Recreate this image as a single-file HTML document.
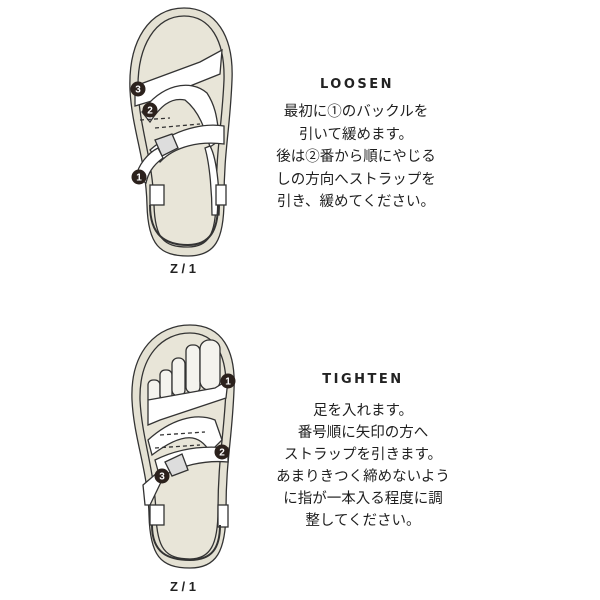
<!DOCTYPE html>
<html><head><meta charset="utf-8"><style>
html,body{margin:0;padding:0;background:#fff;width:600px;height:600px;overflow:hidden}
.t{position:absolute;font-family:"Liberation Sans","Noto Sans CJK JP",sans-serif;color:#1e1e1e;text-align:center;font-size:14.5px;line-height:22.5px;white-space:nowrap}
.h{position:absolute;font-family:"DejaVu Sans","Liberation Sans",sans-serif;font-weight:bold;letter-spacing:2.5px;font-size:13px;color:#222;text-align:center}
</style></head><body>
<svg width="600" height="600" style="position:absolute;left:0;top:0" xmlns="http://www.w3.org/2000/svg">
<g stroke="#333" stroke-width="1.3" fill="none">
<!-- top sandal -->
<path d="M184,8 C215,8 234,35 232,80 C230,130 224,150 224,200 C224,240 215,256 188,256 C160,256 148,245 147,205 C146,160 132,130 130,90 C128,40 150,8 184,8Z" fill="#e4e1d3"/>
<path d="M184,16 C210,16 225,40 224,80 C222,125 216,150 216,200 C216,235 208,247 188,247 C163,247 155,238 154,205 C153,160 140,130 138,90 C137,45 156,16 184,16Z" fill="#e8e5d8"/>
<path d="M135,86 L200,62 L222,50 L220,74 L155,100 L135,106Z" fill="#fff"/>
<path d="M142,112 C160,85 190,78 207,93 C218,110 217,125 220,140 L210,147 C205,130 200,112 185,100 C170,97 160,107 150,122Z" fill="#fff"/>
<path d="M150,150 C175,128 205,123 224,126 L224,144 C200,141 175,146 160,162Z" fill="#fff"/>
<path d="M155,140 L172,134 L178,148 L162,156Z" fill="#ddd"/>
<path d="M136,177 C138,165 148,153 158,148 L163,158 C152,166 148,174 146,183Z" fill="#fff"/>
<path d="M210,146 C218,160 220,200 219,215 L212,215 C212,195 210,165 205,148Z" fill="#fff"/>
<rect x="150" y="185" width="14" height="20" fill="#fff"/>
<rect x="216" y="185" width="10" height="20" fill="#fff"/>
<path d="M150,205 C150,235 165,245 188,245 C210,245 218,230 218,205" stroke-width="2"/>
<path d="M140,120 L170,118 M155,128 L200,124" stroke-dasharray="4,3"/>
<!-- bottom sandal -->
<path d="M190,325 C222,325 236,350 234,390 C232,440 226,460 226,510 C226,552 216,568 190,568 C160,568 150,555 149,515 C148,470 134,440 132,400 C130,350 158,325 190,325Z" fill="#e4e1d3"/>
<path d="M190,333 C215,333 227,355 226,390 C224,435 218,460 218,510 C218,545 210,559 190,559 C165,559 157,548 156,515 C155,470 142,440 140,400 C139,355 163,333 190,333Z" fill="#e8e5d8"/>
<g fill="#f4f3ee"><rect x="148" y="380" width="12" height="24" rx="5"/><rect x="160" y="370" width="12" height="30" rx="5"/><rect x="172" y="358" width="13" height="38" rx="6"/><rect x="186" y="345" width="14" height="48" rx="6"/><rect x="200" y="340" width="20" height="50" rx="9"/></g>
<path d="M148,400 L215,388 L228,380 L226,398 L160,420 L148,425Z" fill="#fff"/>
<path d="M148,440 C170,420 195,412 215,420 L222,440 L210,452 C200,435 185,430 152,455Z" fill="#fff"/>
<path d="M155,460 C175,450 200,445 228,448 L228,462 C205,460 180,465 160,478Z" fill="#fff"/>
<path d="M165,462 L182,454 L188,470 L172,476Z" fill="#ddd"/>
<path d="M143,485 L158,472 L162,480 L150,505 L145,505Z" fill="#fff"/>
<rect x="150" y="505" width="14" height="20" fill="#fff"/>
<rect x="218" y="505" width="10" height="22" fill="#fff"/>
<path d="M152,525 C152,553 168,560 190,560 C212,560 220,548 220,525" stroke-width="2"/>
<path d="M160,435 L205,432 M155,448 L200,445" stroke-dasharray="4,3"/>
</g>
<g fill="#2b211c" font-family="Liberation Sans,sans-serif" font-size="10" font-weight="bold" text-anchor="middle">
<circle cx="138" cy="89" r="7.5"/><circle cx="150" cy="110" r="7.5"/><circle cx="139" cy="177" r="7.5"/>
<circle cx="228" cy="381" r="7.5"/><circle cx="222" cy="452" r="7.5"/><circle cx="162" cy="476" r="7.5"/>
<g fill="#fff"><text x="138" y="92.5">3</text><text x="150" y="113.5">2</text><text x="139" y="180.5">1</text>
<text x="228" y="384.5">1</text><text x="222" y="455.5">2</text><text x="162" y="479.5">3</text></g>
<text x="183" y="273" font-size="13" fill="#222">Z / 1</text>
<text x="183" y="591" font-size="13" fill="#222">Z / 1</text>
</g>
</svg>
<div class="h" style="left:290px;top:77px;width:134px">LOOSEN</div>
<div class="t" style="left:250px;top:101px;width:212px">最初に①のバックルを<br>引いて緩めます。<br>後は②番から順にやじる<br>しの方向へストラップを<br>引き、緩めてください。</div>
<div class="h" style="left:296px;top:372px;width:134px">TIGHTEN</div>
<div class="t" style="left:255px;top:400px;width:216px;line-height:22px">足を入れます。<br>番号順に矢印の方へ<br>ストラップを引きます。<br>あまりきつく締めないよう<br>に指が一本入る程度に調<br>整してください。</div>
</body></html>
